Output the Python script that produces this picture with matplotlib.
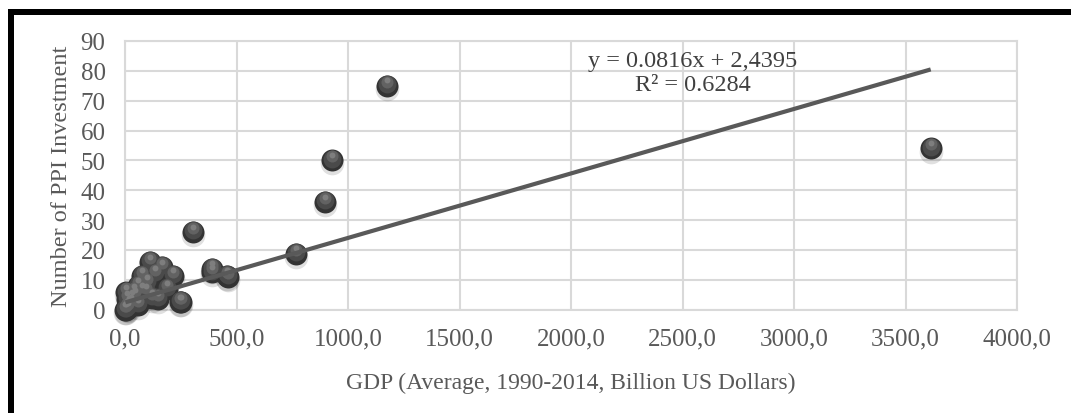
import matplotlib
matplotlib.use("Agg")
import matplotlib.pyplot as plt
import numpy as np
from matplotlib.transforms import ScaledTranslation
from matplotlib.patches import Rectangle

# ---- data ----
gdp = [1175, 930, 898, 307, 765, 391, 461, 250, 3613,
       112, 165, 75, 135, 217, 75, 187, 150, 247, 389, 457,
       58, 45, 5, 2, 10, 20, 30, 8, 15, 3, 25, 40,
       100, 120, 95, 60]
ppi = [75, 50, 36, 26, 18.7, 12.5, 11, 2.5, 54,
       15.9, 14.2, 11.4, 12, 11.4, 6.4, 7, 3.6, 2.5, 13.7, 11.4,
       8, 4.7, 5.8, 0, 3.6, 2, 4, 1, 0.5, 0, 2.5, 6,
       9, 4, 6, 1.5]
trend_intercept = 2.4395
trend_slope_plot = 0.0216
eq_text = "y = 0.0816x + 2,4395"
r2_text = "R\u00b2 = 0.6284"
x_ticks = [0, 500, 1000, 1500, 2000, 2500, 3000, 3500, 4000]
y_ticks = [0, 10, 20, 30, 40, 50, 60, 70, 80, 90]
x_label = "GDP (Average, 1990-2014, Billion US Dollars)"
y_label = "Number of PPI Investment"

W, H = 1071, 414
fig = plt.figure(figsize=(W / 100, H / 100), dpi=100)
plt.rcParams['font.family'] = ['Liberation Serif', 'DejaVu Serif']
ax = fig.add_axes([125 / W, 1 - 310.7 / H, (1017 - 125) / W, (310.7 - 42) / H])

ax.set_xlim(0, 4000)
ax.set_ylim(0, 90)
ax.set_xticks(x_ticks)
ax.set_yticks(y_ticks)
ax.set_xticklabels([f"{v:.1f}".replace('.', ',') for v in x_ticks])
ax.set_yticklabels([str(v) for v in y_ticks])
ax.tick_params(length=0, labelsize=18, colors='#595959')
ax.tick_params(axis='x', pad=13)
ax.tick_params(axis='y', pad=14)
ax.grid(True, color='#d9d9d9', linewidth=1.5)
ax.set_axisbelow(True)
for s in ax.spines.values():
    s.set_color('#d9d9d9')
    s.set_linewidth(1.5)

# trendline
xs = np.array([min(gdp), max(gdp)])
ax.plot(xs, trend_intercept + trend_slope_plot * xs, color='#595959', lw=3,
        zorder=5, solid_capstyle='butt')

# sphere-like markers
def off(dy, dx=0):
    return ax.transData + ScaledTranslation(dx / 72, dy / 72, fig.dpi_scale_trans)

ax.scatter(gdp, ppi, s=290, color='black', alpha=0.12, lw=0, transform=off(-2.2), zorder=3, clip_on=False)
ax.scatter(gdp, ppi, s=250, color='#333333', lw=0, zorder=4, clip_on=False)
ax.scatter(gdp, ppi, s=165, color='#4a4a4a', lw=0, transform=off(1.3), zorder=4, clip_on=False)
ax.scatter(gdp, ppi, s=75, color='#626262', lw=0, transform=off(2.9), zorder=4, clip_on=False)
ax.scatter(gdp, ppi, s=18, color='#7e7e7e', lw=0, transform=off(4.0), zorder=4, clip_on=False)

# equation
ax.text(2547, 83.5, eq_text, ha='center', va='center', fontsize=17.5, color='#404040', zorder=6)
ax.text(2547, 75.3, r2_text, ha='center', va='center', fontsize=17.5, color='#404040', zorder=6)

ax.set_xlabel(x_label, fontsize=17, color='#595959')
ax.set_ylabel(y_label, fontsize=17.5, color='#595959')
ax.xaxis.set_label_coords(0.5, (310.7 - 383) / 268.7)
ax.yaxis.set_label_coords((62 - 125) / 892, 0.5)
ax.xaxis.label.set_va('center')
ax.yaxis.label.set_va('center')

# black frame (left and top)
fig.add_artist(Rectangle((8 / W, 0), 6 / W, (H - 10) / H, transform=fig.transFigure,
                         color='black', lw=0))
fig.add_artist(Rectangle((8 / W, (H - 16) / H), (W - 8) / W, 6 / H, transform=fig.transFigure,
                         color='black', lw=0))

fig.savefig("out.png", dpi=100, facecolor='white')
